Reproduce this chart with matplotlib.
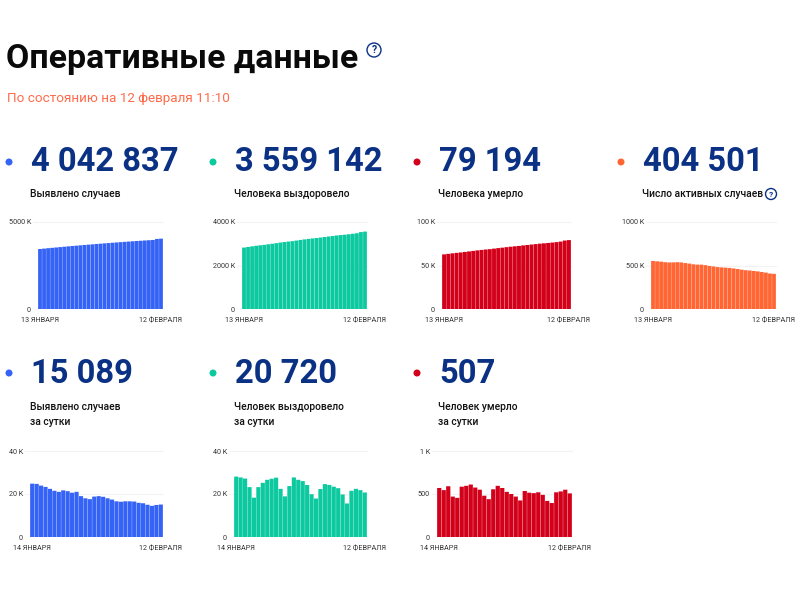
import matplotlib
matplotlib.use('Agg')
import matplotlib.pyplot as plt
from matplotlib.patches import Circle

plt.rcParams['font.family'] = ['Roboto', 'DejaVu Sans']

blue = '#3563f5'
green = '#0dc9a0'
red = '#d3001a'
orange = '#ff6633'
navy = '#0a3184'

total = [3448, 3471, 3494, 3515, 3536, 3558, 3580, 3600, 3620, 3640, 3660, 3679, 3698, 3717, 3736,
         3754, 3772, 3790, 3808, 3825, 3842, 3859, 3875, 3892, 3908, 3923, 3938, 3953, 3968, 4027, 4043]
recovered = [2825, 2853, 2880, 2907, 2930, 2950, 2975, 3000, 3027, 3054, 3080, 3100, 3120, 3147, 3175,
             3200, 3225, 3245, 3263, 3285, 3310, 3334, 3357, 3380, 3400, 3416, 3437, 3460, 3482, 3538, 3559]
deaths = [62.8, 63.4, 64.0, 64.5, 65.0, 65.6, 66.2, 66.8, 67.4, 67.9, 68.4, 68.8, 69.4, 70.0, 70.5,
          71.1, 71.6, 72.1, 72.5, 73.1, 73.6, 74.1, 74.6, 75.1, 75.5, 75.9, 76.4, 76.9, 77.5, 78.7, 79.2]
active = [552, 548, 544, 538, 535, 536, 538, 535, 528, 522, 514, 510, 510, 504, 495,
          489, 482, 478, 475, 472, 466, 460, 452, 446, 442, 437, 432, 425, 418, 408, 404]
daily_total = [24.8, 24.7, 23.9, 23.3, 22.4, 21.5, 21.0, 21.7, 21.3, 20.6, 21.0, 19.0, 18.0, 17.6, 18.8,
               19.0, 18.7, 18.0, 17.4, 16.6, 16.4, 16.6, 16.6, 16.5, 15.9, 15.7, 15.0, 14.5, 14.9, 15.1]
daily_recovered = [28.1, 27.7, 27.2, 23.2, 18.3, 23.2, 25.2, 26.6, 27.1, 27.6, 22.4, 18.9, 23.7, 27.7, 26.6,
                   26.0, 24.2, 19.9, 17.9, 22.3, 24.6, 24.2, 23.4, 22.7, 19.8, 15.6, 21.5, 22.4, 21.8, 20.7]
daily_deaths = [570, 545, 590, 470, 455, 585, 595, 610, 575, 550, 480, 440, 555, 595, 570,
                525, 500, 470, 425, 535, 515, 510, 520, 490, 420, 395, 520, 530, 550, 507]

fig = plt.figure(figsize=(8, 6), dpi=100)

# overlay in pixel coordinates for the text and dots
bg = fig.add_axes([0, 0, 1, 1])
bg.set_xlim(0, 800)
bg.set_ylim(600, 0)
bg.axis('off')


def help_icon(x, y, r, size):
    bg.add_patch(Circle((x, y), r, fill=False, edgecolor=navy, lw=1.0))
    bg.text(x, y + 0.2, '?', color=navy, fontsize=size, fontweight='bold', ha='center', va='center')


def panel(x0, x1, y0, y1, values, color, ticks, ticklabels, first, last):
    ax = fig.add_axes([x0 / 800, 1 - y1 / 600, (x1 - x0) / 800, (y1 - y0) / 600])
    ax.patch.set_alpha(0)
    # snap off so the gaps come out as soft pale stripes
    ax.bar(range(len(values)), values, width=0.94, color=color, linewidth=0, snap=False)
    ax.set_xlim(-0.5, len(values) - 0.5)
    ax.set_ylim(0, ticks[-1])
    for t in ticks[1:]:
        ax.plot([-0.04, 1], [t, t], color='#f3f3f3', lw=0.8, clip_on=False,
                transform=ax.get_yaxis_transform(), zorder=0)
    for s in ax.spines.values():
        s.set_visible(False)
    ax.set_yticks(ticks, ticklabels)
    ax.set_xticks([0, len(values) - 1], [first, last])
    ax.tick_params(length=0, labelsize=5.2, labelcolor='#333333')
    ax.tick_params(axis='y', pad=5)
    ax.tick_params(axis='x', pad=6)


bg.text(6, 68, 'Оперативные данные', fontsize=24.4, fontweight='bold', color='#0a0a0a', va='baseline')
help_icon(374, 50, 7, 7.5)
bg.text(7, 102, 'По состоянию на 12 февраля 11:10', fontsize=9.7, color='#ff6b4a', va='baseline')

# top row
top_x = [31, 235, 439, 643]
top_nums = ['4 042 837', '3 559 142', '79 194', '404 501']
top_labels = ['Выявлено случаев', 'Человека выздоровело', 'Человека умерло', 'Число активных случаев']
top_colors = [blue, green, red, orange]
for x, num, label, c in zip(top_x, top_nums, top_labels, top_colors):
    bg.add_patch(Circle((x - 22, 162), 3.5, color=c, lw=0))
    bg.text(x, 171, num, fontsize=23.6, fontweight='bold', color=navy, va='baseline')
    bg.text(x - 1, 197, label, fontsize=7.4, fontweight='medium', color='#111111', va='baseline')
help_icon(771, 194, 5.5, 6)

panel(38, 163, 222, 309, total, blue, [0, 5000], ['0', '5000 K'], '13 ЯНВАРЯ', '12 ФЕВРАЛЯ')
panel(242, 367, 222, 309, recovered, green, [0, 2000, 4000], ['0', '2000 K', '4000 K'], '13 ЯНВАРЯ', '12 ФЕВРАЛЯ')
panel(442, 571, 222, 309, deaths, red, [0, 50, 100], ['0', '50 K', '100 K'], '13 ЯНВАРЯ', '12 ФЕВРАЛЯ')
panel(651, 776, 222, 309, active, orange, [0, 500, 1000], ['0', '500 K', '1000 K'], '13 ЯНВАРЯ', '12 ФЕВРАЛЯ')

# bottom row
bot_x = [31, 235, 439]
bot_nums = ['15 089', '20 720', '507']
bot_labels = ['Выявлено случаев', 'Человек выздоровело', 'Человек умерло']
bot_colors = [blue, green, red]
for x, num, label, c in zip(bot_x, bot_nums, bot_labels, bot_colors):
    bg.add_patch(Circle((x - 22, 373), 3.5, color=c, lw=0))
    bg.text(x, 383, num, fontsize=23.6, fontweight='bold', color=navy, va='baseline')
    bg.text(x - 1, 410, label, fontsize=7.4, fontweight='medium', color='#111111', va='baseline')
    bg.text(x - 1, 425, 'за сутки', fontsize=7.4, fontweight='medium', color='#111111', va='baseline')

panel(30, 163, 451, 537, daily_total, blue, [0, 20, 40], ['0', '20 K', '40 K'], '14 ЯНВАРЯ', '12 ФЕВРАЛЯ')
panel(234, 367, 451, 537, daily_recovered, green, [0, 20, 40], ['0', '20 K', '40 K'], '14 ЯНВАРЯ', '12 ФЕВРАЛЯ')
panel(437, 572, 451, 537, daily_deaths, red, [0, 500, 1000], ['0', '500', '1 K'], '14 ЯНВАРЯ', '12 ФЕВРАЛЯ')

fig.savefig('out.png', dpi=100)
